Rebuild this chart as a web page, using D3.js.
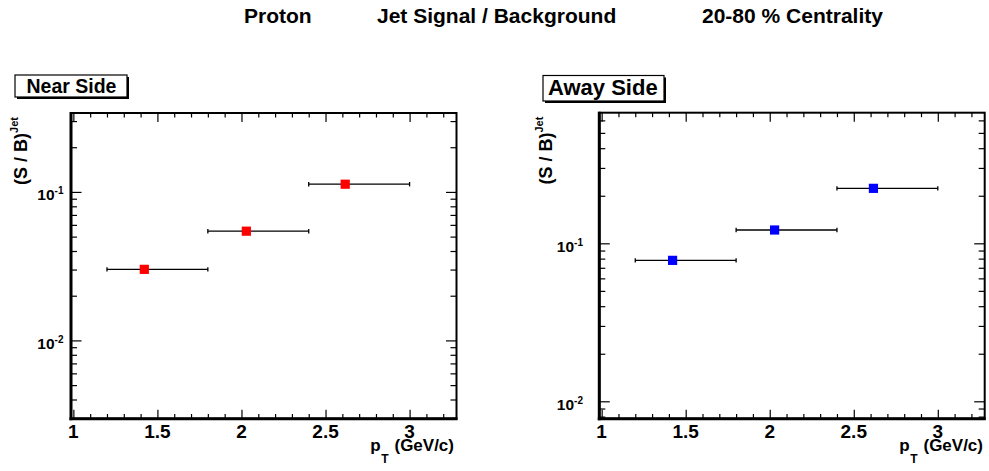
<!DOCTYPE html>
<html>
<head>
<meta charset="utf-8">
<script src="https://cdn.jsdelivr.net/npm/d3@7"></script>
<style>
  html, body { margin: 0; padding: 0; background: #fff; }
  svg { display: block; }
  text { font-family: "Liberation Sans", Arial, Helvetica, sans-serif; font-weight: bold; fill: #000; }
</style>
</head>
<body>
<svg id="chart" width="989" height="471"></svg>
<script>
// ---------------- data ----------------
const titleParts = ["Proton", "Jet Signal / Background", "20-80 % Centrality"];
const panelNames = ["Near Side", "Away Side"];
const xTickValues = [1, 1.5, 2, 2.5, 3];
const xTickLabels = ["1", "1.5", "2", "2.5", "3"];
const yTickValues = [0.01, 0.1];
const yTickExponents = ["-2", "-1"];
const ptCenters = [1.422, 2.029, 2.617];
const ptBinLow = [1.2, 1.8, 2.4];
const ptBinHigh = [1.8, 2.4, 3.0];
const nearSideSB = [0.0301, 0.0544, 0.1127];
const awaySideSB = [0.0780, 0.1214, 0.2228];
const xDomain = [0.986, 3.279];
const nearYDomain = [0.00297, 0.34];
const awayYDomain = [0.00776, 0.671];

// ---------------- layout ----------------
const svg = d3.select("#chart");

const panels = [
  { name: panelNames[0], values: nearSideSB, color: "#ff0000", yDomain: nearYDomain,
    x0: 71, x1: 456.5, y0: 113, y1: 418.7, labelX: 63.5, titleX: 26.5,
    legend: { x: 15, y: 75, w: 112, h: 22, size: 19.5, tx: 26.5, ty: 93 },
    xTitleEnd: 454 },
  { name: panelNames[1], values: awaySideSB, color: "#0000ff", yDomain: awayYDomain,
    x0: 599.3, x1: 984.7, y0: 112.7, y1: 418.7, labelX: 583, titleX: 552,
    legend: { x: 543, y: 75.5, w: 121, h: 25.5, size: 22, tx: 548, ty: 95 },
    xTitleEnd: 983 }
];

// title
const titleX = [244, 377, 702];
titleParts.forEach((t, i) => {
  svg.append("text").attr("x", titleX[i]).attr("y", 23)
    .attr("font-size", 21).text(t);
});

function logMinor(domain) {
  const out = [];
  const k0 = Math.floor(Math.log10(domain[0])), k1 = Math.ceil(Math.log10(domain[1]));
  for (let k = k0; k <= k1; k++) {
    for (let m = 2; m <= 9; m++) {
      const v = m * Math.pow(10, k);
      if (v >= domain[0] && v <= domain[1]) out.push(v);
    }
  }
  return out;
}

panels.forEach(p => {
  const x = d3.scaleLinear().domain(xDomain).range([p.x0, p.x1]);
  const y = d3.scaleLog().domain(p.yDomain).range([p.y1, p.y0]);
  const g = svg.append("g");

  const xMinor = d3.range(10, 33).map(d => d / 10)
    .filter(v => v >= xDomain[0] && v <= xDomain[1] && !xTickValues.some(t => Math.abs(t - v) < 1e-9));
  const yMinor = logMinor(p.yDomain);
  const yMajor = yTickValues.filter(v => v >= p.yDomain[0] && v <= p.yDomain[1]);

  function addAxis(axis, tx, ty) {
    const a = g.append("g").attr("transform", `translate(${tx},${ty})`).call(axis);
    a.select(".domain").remove();
    a.selectAll("line").attr("stroke", "#000").attr("stroke-width", 1.2);
    a.selectAll("text").remove();
    return a;
  }
  // bottom
  addAxis(d3.axisBottom(x).tickValues(xTickValues).tickSize(-9).tickSizeOuter(0), 0, p.y1);
  addAxis(d3.axisBottom(x).tickValues(xMinor).tickSize(-4.7).tickSizeOuter(0), 0, p.y1);
  // top
  addAxis(d3.axisTop(x).tickValues(xTickValues).tickSize(-9).tickSizeOuter(0), 0, p.y0);
  addAxis(d3.axisTop(x).tickValues(xMinor).tickSize(-4.5).tickSizeOuter(0), 0, p.y0);
  // left
  addAxis(d3.axisLeft(y).tickValues(yMajor).tickSize(-10.5).tickSizeOuter(0), p.x0, 0);
  addAxis(d3.axisLeft(y).tickValues(yMinor).tickSize(-6).tickSizeOuter(0), p.x0, 0);
  // right
  addAxis(d3.axisRight(y).tickValues(yMajor).tickSize(-10.5).tickSizeOuter(0), p.x1, 0);
  addAxis(d3.axisRight(y).tickValues(yMinor).tickSize(-6).tickSizeOuter(0), p.x1, 0);

  // frame
  g.append("rect").attr("x", p.x0).attr("y", p.y0)
    .attr("width", p.x1 - p.x0).attr("height", p.y1 - p.y0)
    .attr("fill", "none").attr("stroke", "#000").attr("stroke-width", 2);
  g.append("line").attr("x1", p.x0).attr("x2", p.x0).attr("y1", p.y0 - 1).attr("y2", p.y1 + 1.5)
    .attr("stroke", "#000").attr("stroke-width", 3);
  g.append("line").attr("x1", p.x0 - 1.5).attr("x2", p.x1 + 1).attr("y1", p.y1).attr("y2", p.y1)
    .attr("stroke", "#000").attr("stroke-width", 3);

  // x tick labels
  xTickValues.forEach((v, i) => {
    g.append("text").attr("x", x(v)).attr("y", p.y1 + 18.8)
      .attr("text-anchor", "middle").attr("font-size", 19).text(xTickLabels[i]);
  });
  // y tick labels
  yMajor.forEach(v => {
    const i = yTickValues.indexOf(v);
    const t = g.append("text").attr("x", p.labelX).attr("y", y(v) + 8.5)
      .attr("text-anchor", "end").attr("font-size", 15.5);
    t.append("tspan").text("10");
    t.append("tspan").attr("dy", -6).attr("font-size", 10).text(yTickExponents[i]);
  });

  // y axis title
  const yt = g.append("text")
    .attr("transform", `translate(${p.titleX},${p.y0 + 4}) rotate(-90)`)
    .attr("text-anchor", "end").attr("font-size", 18);
  yt.append("tspan").text("(S / B)");
  yt.append("tspan").attr("dy", -9).attr("font-size", 11).text("Jet");

  // x axis title
  const xt = g.append("text").attr("x", p.xTitleEnd).attr("y", p.y1 + 32.5)
    .attr("text-anchor", "end").attr("font-size", 17);
  xt.append("tspan").text("p");
  xt.append("tspan").attr("dy", 12).attr("dx", 0.5).attr("font-size", 12).text("T");
  xt.append("tspan").attr("dy", -12).attr("dx", 6).text("(GeV/c)");

  // legend box with shadow
  const L = p.legend;
  g.append("rect").attr("x", L.x + 2).attr("y", L.y + 2).attr("width", L.w).attr("height", L.h).attr("fill", "#000");
  g.append("rect").attr("x", L.x).attr("y", L.y).attr("width", L.w).attr("height", L.h)
    .attr("fill", "#fff").attr("stroke", "#000").attr("stroke-width", 1.2);
  g.append("text").attr("x", L.tx).attr("y", L.ty).attr("font-size", L.size).text(p.name);

  // error bars
  const pts = ptCenters.map((c, i) => ({ c, lo: ptBinLow[i], hi: ptBinHigh[i], v: p.values[i] }));
  const eb = g.append("g");
  eb.selectAll("line.h").data(pts).join("line").attr("class", "h")
    .attr("x1", d => x(d.lo)).attr("x2", d => x(d.hi))
    .attr("y1", d => y(d.v)).attr("y2", d => y(d.v))
    .attr("stroke", "#000").attr("stroke-width", 1.3);
  eb.selectAll("line.l").data(pts).join("line").attr("class", "l")
    .attr("x1", d => x(d.lo)).attr("x2", d => x(d.lo))
    .attr("y1", d => y(d.v) - 2.2).attr("y2", d => y(d.v) + 2.2)
    .attr("stroke", "#000").attr("stroke-width", 1.3);
  eb.selectAll("line.r").data(pts).join("line").attr("class", "r")
    .attr("x1", d => x(d.hi)).attr("x2", d => x(d.hi))
    .attr("y1", d => y(d.v) - 2.2).attr("y2", d => y(d.v) + 2.2)
    .attr("stroke", "#000").attr("stroke-width", 1.3);
  // markers
  g.selectAll("rect.m").data(pts).join("rect").attr("class", "m")
    .attr("x", d => x(d.c) - 4.6).attr("y", d => y(d.v) - 4.6)
    .attr("width", 9.2).attr("height", 9.2).attr("fill", p.color);
});
</script>
</body>
</html>
